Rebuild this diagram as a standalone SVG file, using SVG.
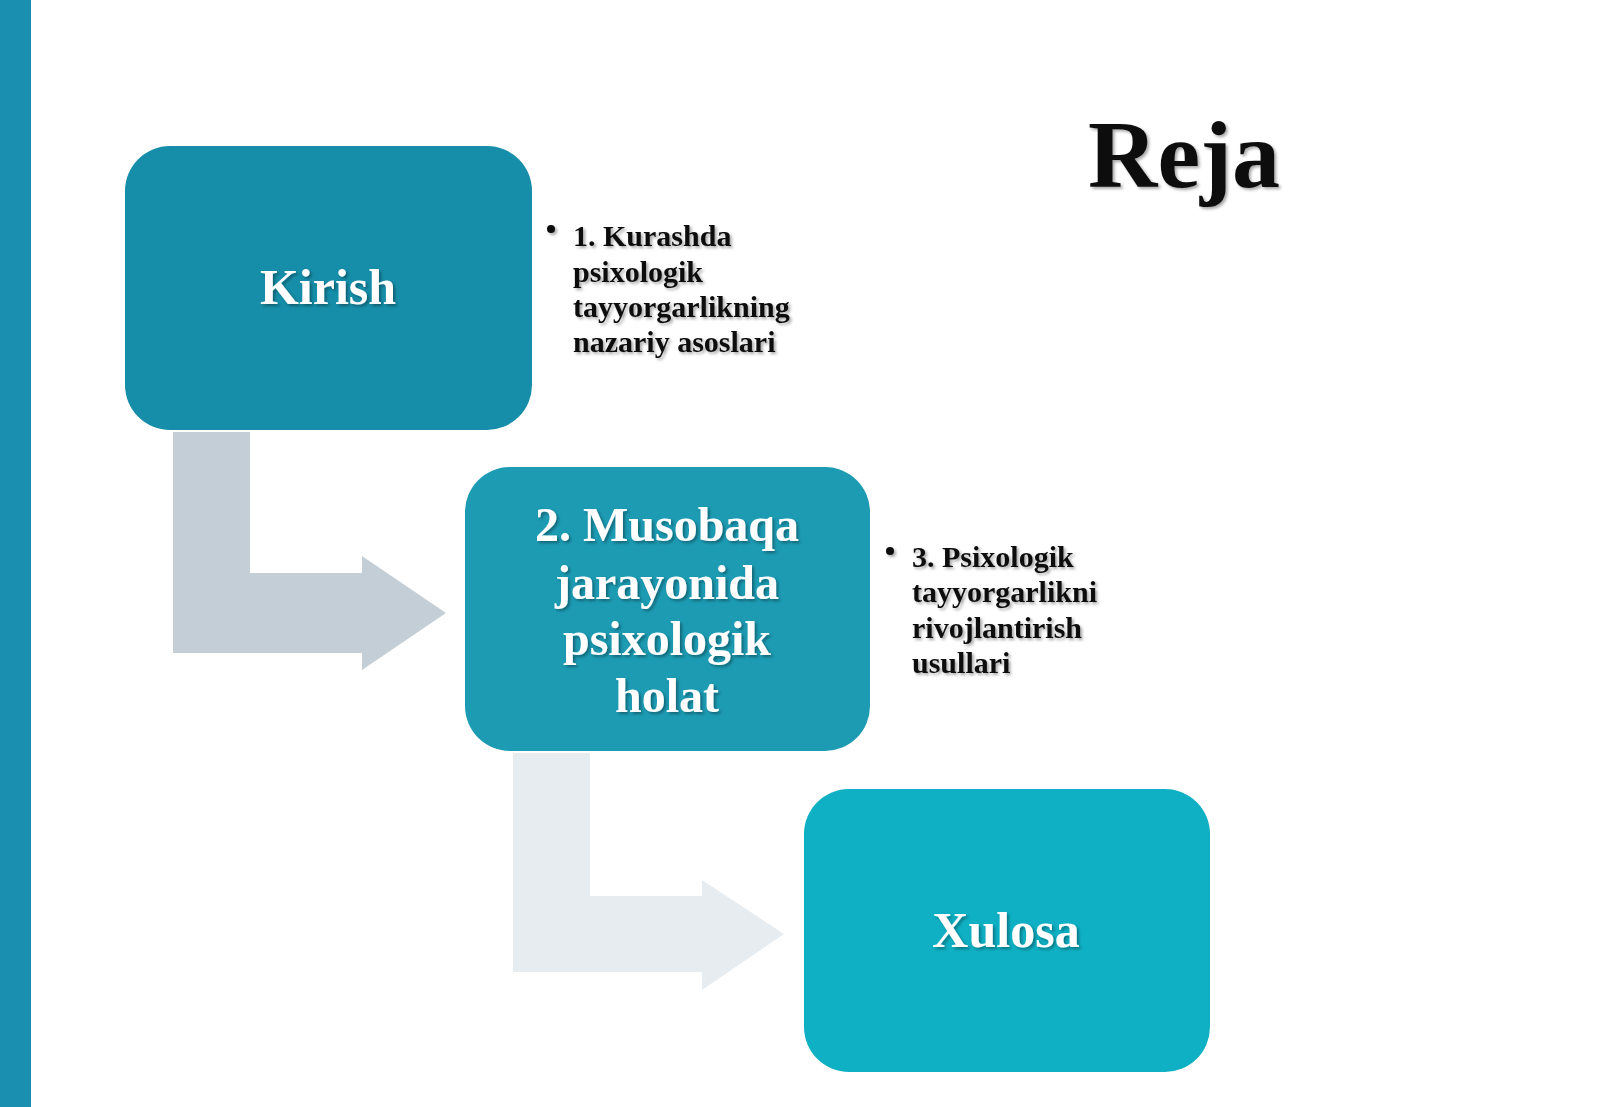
<svg xmlns="http://www.w3.org/2000/svg" width="1600" height="1107" viewBox="0 0 1600 1107">
<defs>
<filter id="sh" x="-10%" y="-10%" width="120%" height="130%"><feDropShadow dx="2" dy="2" stdDeviation="1.5" flood-color="#000" flood-opacity="0.35"/></filter>
</defs>
<style>
.bx{font-family:"Liberation Serif",serif;font-weight:bold;fill:#fff;text-anchor:middle}
.bl{font-family:"Liberation Serif",serif;font-weight:bold;font-size:30px;fill:#111}
</style>
<rect width="1600" height="1107" fill="#fff"/>
<rect x="0" y="0" width="31" height="1107" fill="#1a8fb0"/>
<text x="1184" y="187" class="bl" style="font-size:96px;text-anchor:middle" filter="url(#sh)">Reja</text>
<g id="connectors">
<path d="M173,432 H250 V573 H362 V556 L446,613 L362,670 V653 H173 Z" fill="#c3ced6"/>
<path d="M513,753 H590 V896 H702 V880 L784,934 L702,990 V972 H513 Z" fill="#e6ecf0"/>
</g>
<g id="kirish"><rect x="125" y="146" width="407" height="284" rx="45" fill="#168ea9"/>
<text x="328" y="304" class="bx" font-size="50" filter="url(#sh)">Kirish</text></g>
<g id="musobaqa"><rect x="465" y="467" width="405" height="284" rx="45" fill="#1c9bb3"/>
<text class="bx" font-size="48" filter="url(#sh)"><tspan x="667" y="541">2. Musobaqa</tspan><tspan x="667" y="599">jarayonida</tspan><tspan x="667" y="655">psixologik</tspan><tspan x="667" y="712">holat</tspan></text></g>
<g id="xulosa"><rect x="804" y="789" width="406" height="283" rx="45" fill="#0fb0c4"/>
<text x="1006" y="947" class="bx" font-size="50" filter="url(#sh)">Xulosa</text></g>
<g id="note1" filter="url(#sh)"><circle cx="551" cy="229" r="4" fill="#111"/>
<text class="bl"><tspan x="573" y="246">1. Kurashda</tspan><tspan x="573" y="282">psixologik</tspan><tspan x="573" y="317">tayyorgarlikning</tspan><tspan x="573" y="352">nazariy asoslari</tspan></text></g>
<g id="note3" filter="url(#sh)"><circle cx="890" cy="551" r="4" fill="#111"/>
<text class="bl"><tspan x="912" y="567">3. Psixologik</tspan><tspan x="912" y="602">tayyorgarlikni</tspan><tspan x="912" y="638">rivojlantirish</tspan><tspan x="912" y="673">usullari</tspan></text></g>
</svg>
